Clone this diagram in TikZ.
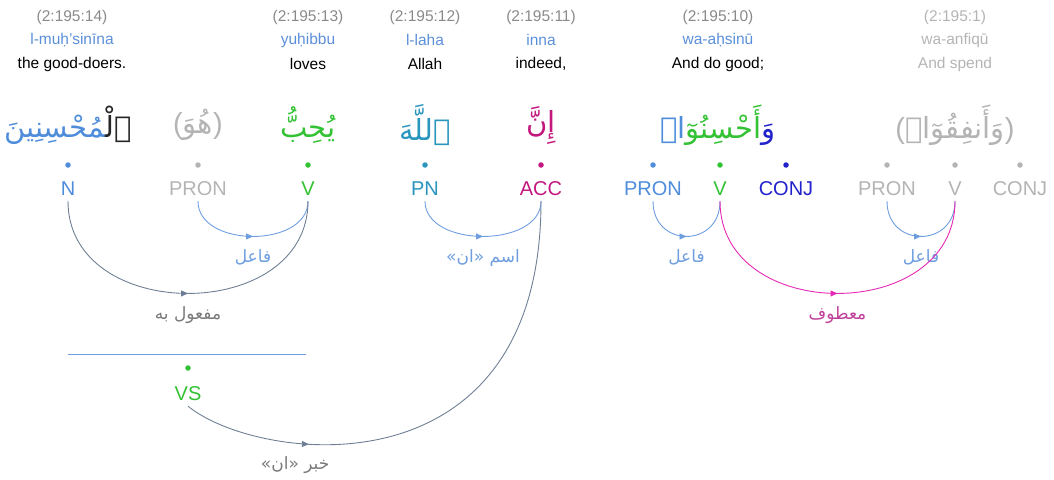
\documentclass[tikz,border=0pt]{standalone}
\usepackage{fontspec}
\setmainfont{Liberation Sans}
\newfontfamily\arabicfont[Script=Arabic]{DejaVu Sans}
\TeXXeTstate=1
\usetikzlibrary{arrows.meta,decorations.markings}
\definecolor{refgray}{HTML}{8A8A8A}
\definecolor{translitblue}{HTML}{5B8FD9}
\definecolor{faded}{HTML}{B4B4B4}
\definecolor{nounblue}{HTML}{4F8DDB}
\definecolor{verbgreen}{HTML}{33C233}
\definecolor{pnteal}{HTML}{2A96BE}
\definecolor{accmag}{HTML}{C2187E}
\definecolor{conjblue}{HTML}{2222CC}
\definecolor{arcblue}{HTML}{6E9EE0}
\definecolor{arcgray}{HTML}{6F7F95}
\definecolor{arcpink}{HTML}{E62AB5}
\definecolor{atfpink}{HTML}{C0409A}
\definecolor{labgray}{HTML}{7A7A7A}
\newcommand{\artext}[1]{{\arabicfont\beginR #1\endR}}
\begin{document}
\begin{tikzpicture}[x=1pt,y=-1pt,
        ref/.style={font=\fontsize{15.5}{18}\selectfont, text=refgray},
        translit/.style={font=\fontsize{15.5}{18}\selectfont, text=translitblue},
        gloss/.style={font=\fontsize{15.5}{18}\selectfont},
        word/.style={font=\arabicfont\fontsize{29}{35}\selectfont},
        tag/.style={font=\fontsize{20}{22}\selectfont, text height=14pt, text depth=0pt, inner xsep=1pt, inner ysep=6pt},
        dot/.style={circle, fill=#1, inner sep=0pt, minimum size=5.5pt},
        rel/.style={font=\fontsize{17}{19}\selectfont, below=10pt, inner sep=3pt},
        deplink/.style={draw=#1, line width=0.9pt},
        spanline/.style={draw=arcblue, line width=0.9pt},
        midarrow/.style={postaction={decorate}, decoration={markings,
            mark=at position #1 with {\arrow{Triangle[length=7pt,width=6pt]}}}}]
    \useasboundingbox (0,0) rectangle (1054,479);
    % verse references, transliteration, translation
    \node[ref] (r14) at (72,17) {(2:195:14)};
    \node[translit] (t14) at (72,40) {l-muḥ'sinīna};
    \node[gloss] (g14) at (72,64) {the good-doers.};
    \node[ref] (r13) at (308,17) {(2:195:13)};
    \node[translit] (t13) at (308,40) {yuḥibbu};
    \node[gloss] (g13) at (308,64) {loves};
    \node[ref] (r12) at (425,17) {(2:195:12)};
    \node[translit] (t12) at (425,40) {l-laha};
    \node[gloss] (g12) at (425,64) {Allah};
    \node[ref] (r11) at (541,17) {(2:195:11)};
    \node[translit] (t11) at (541,40) {inna};
    \node[gloss] (g11) at (541,64) {indeed,};
    \node[ref] (r10) at (718,17) {(2:195:10)};
    \node[translit] (t10) at (718,40) {wa-aḥsinū};
    \node[gloss] (g10) at (718,64) {And do good;};
    \node[ref, text=faded] (r1) at (955,17) {(2:195:1)};
    \node[translit, text=faded] (t1) at (955,40) {wa-anfiqū};
    \node[gloss, text=faded] (g1) at (955,64) {And spend};
    % arabic words (coloured parts in visual order)
    \node[word] (w14) at (68,125) {\textcolor{nounblue}{‍مُحْسِنِينَ}\textcolor{black!85}{ٱلْ‍}};
    \node[word, text=faded] (w13p) at (198,125) {\textrm{(}هُوَ\textrm{)}};
    \node[word, text=verbgreen] (w13) at (308,125) {يُحِبُّ};
    \node[word, text=pnteal] (w12) at (425,125) {ٱللَّهَ};
    \node[word, text=accmag] (w11) at (541,125) {إِنَّ};
    \node[word] (w10) at (718,125) {\textcolor{nounblue}{ا۟}\textcolor{verbgreen}{أَحْسِنُوٓ}\textcolor{conjblue}{وَ}};
    \node[word, text=faded] (w1) at (955,125) {\textrm{(}وَأَنفِقُوٓا۟\textrm{)}};
    % tags
    \node[tag, text=nounblue] (n14) at (68,188) {N};
    \node[tag, text=faded] (pron13) at (198,188) {PRON};
    \node[tag, text=verbgreen] (v13) at (308,188) {V};
    \node[tag, text=pnteal] (pn12) at (425,188) {PN};
    \node[tag, text=accmag] (acc11) at (541,188) {ACC};
    \node[tag, text=nounblue] (pron10) at (653,188) {PRON};
    \node[tag, text=verbgreen] (v10) at (720,188) {V};
    \node[tag, text=conjblue] (conj10) at (786,188) {CONJ};
    \node[tag, text=faded] (pron1) at (887,188) {PRON};
    \node[tag, text=faded] (v1) at (955,188) {V};
    \node[tag, text=faded] (conj1) at (1020,188) {CONJ};
    \foreach \t/\c in {n14/nounblue, pron13/faded, v13/verbgreen, pn12/pnteal, acc11/accmag,
            pron10/nounblue, v10/verbgreen, conj10/conjblue, pron1/faded, v1/faded, conj1/faded}
        \node[dot=\c] (d-\t) at ([yshift=23]\t.center) {};
    % hidden subject
    \coordinate (spanL) at (68,354);
    \coordinate (spanR) at (306,354);
    \draw[spanline] (spanL) -- (spanR);
    \node[dot=verbgreen] (d-vs) at (188,368) {};
    \node[tag, text=verbgreen] (vs) at (188,393) {VS};
    % dependencies
    \draw[deplink=arcblue, midarrow=0.5] (pron13.south) .. controls +(0,47) and +(0,47) .. (v13.south)
        node[rel, text=arcblue, pos=0.5] {\artext{فاعل}};
    \draw[deplink=arcgray, midarrow=0.5] (n14.south) .. controls +(0,123) and +(0,123) .. (v13.south)
        node[rel, text=labgray, pos=0.5] {\artext{مفعول به}};
    \draw[deplink=arcblue, midarrow=0.5] (pn12.south) .. controls +(0,47) and +(0,47) .. (acc11.south)
        node[rel, text=arcblue, pos=0.5] {\artext{اسم «ان»}};
    \draw[deplink=arcblue, midarrow=0.5] (pron10.south) .. controls +(0,47) and +(0,47) .. (v10.south)
        node[rel, text=arcblue, pos=0.5] {\artext{فاعل}};
    \draw[deplink=arcblue, midarrow=0.5] (pron1.south) .. controls +(0,47) and +(0,47) .. (v1.south)
        node[rel, text=arcblue, pos=0.5] {\artext{فاعل}};
    \draw[deplink=arcpink, midarrow=0.5] (v10.south) .. controls +(0,123) and +(0,123) .. (v1.south)
        node[rel, text=atfpink, pos=0.5] {\artext{معطوف}};
    \draw[deplink=arcgray, midarrow=0.25] (vs.south) .. controls +(70,57) and +(0,297) .. (acc11.south)
        node[rel, text=labgray, pos=0.3] {\artext{خبر «ان»}};
\end{tikzpicture}
\end{document}
